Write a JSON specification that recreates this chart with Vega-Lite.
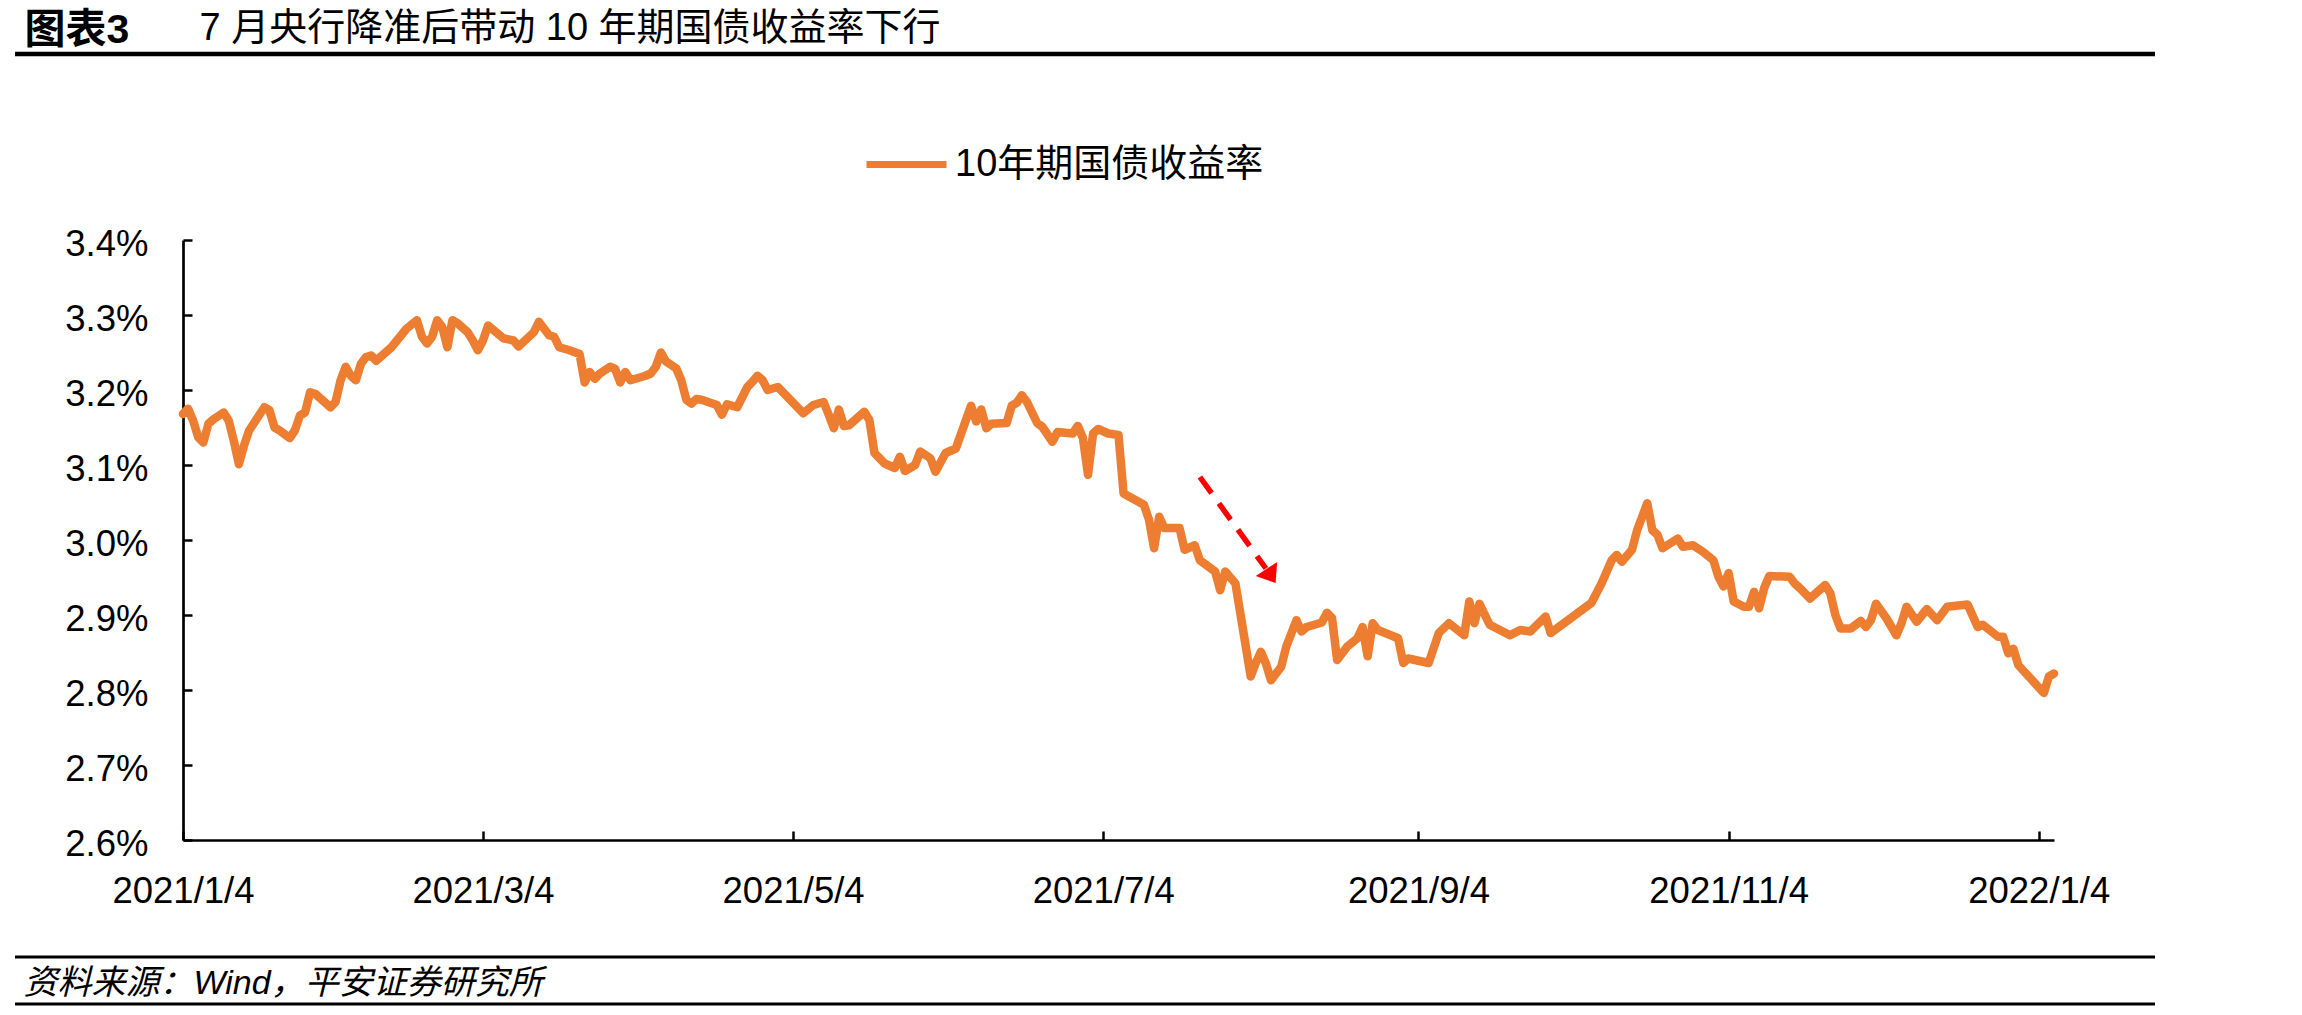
{
  "$schema": "https://vega.github.io/schema/vega-lite/v6.json",
  "width": 1871,
  "height": 600,
  "autosize": {"type": "none"},
  "padding": {"left": 183, "top": 240, "right": 248, "bottom": 175},
  "background": "white",
  "config": {
    "view": {"stroke": null},
    "font": "Liberation Sans, Noto Sans CJK SC"
  },
  "title": {
    "text": "资料来源：Wind，平安证券研究所",
    "orient": "bottom",
    "anchor": "start",
    "frame": "group",
    "dx": -159.5,
    "offset": -39,
    "baseline": "top",
    "font": "Liberation Sans, Noto Sans CJK SC",
    "fontSize": 34,
    "fontStyle": "italic",
    "fontWeight": "normal",
    "color": "black"
  },
  "datasets": {
    "yields": [
      {"date": "2021-01-04", "yield": 3.168}, {"date": "2021-01-05", "yield": 3.175}, {"date": "2021-01-06", "yield": 3.159},
      {"date": "2021-01-07", "yield": 3.137}, {"date": "2021-01-08", "yield": 3.130}, {"date": "2021-01-09", "yield": 3.155},
      {"date": "2021-01-10", "yield": 3.161}, {"date": "2021-01-12", "yield": 3.170}, {"date": "2021-01-13", "yield": 3.159},
      {"date": "2021-01-14", "yield": 3.132}, {"date": "2021-01-15", "yield": 3.101}, {"date": "2021-01-16", "yield": 3.126},
      {"date": "2021-01-17", "yield": 3.146}, {"date": "2021-01-20", "yield": 3.177}, {"date": "2021-01-21", "yield": 3.173},
      {"date": "2021-01-22", "yield": 3.150}, {"date": "2021-01-23", "yield": 3.146}, {"date": "2021-01-25", "yield": 3.136},
      {"date": "2021-01-26", "yield": 3.146}, {"date": "2021-01-27", "yield": 3.166}, {"date": "2021-01-28", "yield": 3.170},
      {"date": "2021-01-29", "yield": 3.197}, {"date": "2021-01-30", "yield": 3.195}, {"date": "2021-02-02", "yield": 3.177},
      {"date": "2021-02-03", "yield": 3.184}, {"date": "2021-02-04", "yield": 3.213}, {"date": "2021-02-05", "yield": 3.231},
      {"date": "2021-02-06", "yield": 3.219}, {"date": "2021-02-07", "yield": 3.213}, {"date": "2021-02-08", "yield": 3.235},
      {"date": "2021-02-09", "yield": 3.244}, {"date": "2021-02-10", "yield": 3.246}, {"date": "2021-02-11", "yield": 3.239},
      {"date": "2021-02-14", "yield": 3.257}, {"date": "2021-02-17", "yield": 3.282}, {"date": "2021-02-19", "yield": 3.293},
      {"date": "2021-02-20", "yield": 3.271}, {"date": "2021-02-21", "yield": 3.262}, {"date": "2021-02-22", "yield": 3.271},
      {"date": "2021-02-23", "yield": 3.293}, {"date": "2021-02-24", "yield": 3.284}, {"date": "2021-02-25", "yield": 3.257},
      {"date": "2021-02-26", "yield": 3.293}, {"date": "2021-02-27", "yield": 3.289}, {"date": "2021-03-01", "yield": 3.277},
      {"date": "2021-03-02", "yield": 3.266}, {"date": "2021-03-03", "yield": 3.253}, {"date": "2021-03-04", "yield": 3.266},
      {"date": "2021-03-05", "yield": 3.286}, {"date": "2021-03-08", "yield": 3.269}, {"date": "2021-03-10", "yield": 3.266},
      {"date": "2021-03-11", "yield": 3.258}, {"date": "2021-03-14", "yield": 3.277}, {"date": "2021-03-15", "yield": 3.291},
      {"date": "2021-03-16", "yield": 3.282}, {"date": "2021-03-17", "yield": 3.273}, {"date": "2021-03-18", "yield": 3.271},
      {"date": "2021-03-19", "yield": 3.257}, {"date": "2021-03-21", "yield": 3.253}, {"date": "2021-03-23", "yield": 3.248},
      {"date": "2021-03-24", "yield": 3.210}, {"date": "2021-03-25", "yield": 3.224}, {"date": "2021-03-26", "yield": 3.215},
      {"date": "2021-03-27", "yield": 3.222}, {"date": "2021-03-29", "yield": 3.231}, {"date": "2021-03-30", "yield": 3.228},
      {"date": "2021-03-31", "yield": 3.210}, {"date": "2021-04-01", "yield": 3.224}, {"date": "2021-04-02", "yield": 3.213},
      {"date": "2021-04-05", "yield": 3.219}, {"date": "2021-04-06", "yield": 3.222}, {"date": "2021-04-07", "yield": 3.231},
      {"date": "2021-04-08", "yield": 3.250}, {"date": "2021-04-09", "yield": 3.238}, {"date": "2021-04-11", "yield": 3.229},
      {"date": "2021-04-12", "yield": 3.213}, {"date": "2021-04-13", "yield": 3.187}, {"date": "2021-04-14", "yield": 3.182},
      {"date": "2021-04-15", "yield": 3.188}, {"date": "2021-04-16", "yield": 3.187}, {"date": "2021-04-19", "yield": 3.180},
      {"date": "2021-04-20", "yield": 3.167}, {"date": "2021-04-21", "yield": 3.181}, {"date": "2021-04-23", "yield": 3.177},
      {"date": "2021-04-25", "yield": 3.204}, {"date": "2021-04-26", "yield": 3.211}, {"date": "2021-04-27", "yield": 3.219},
      {"date": "2021-04-28", "yield": 3.213}, {"date": "2021-04-29", "yield": 3.200}, {"date": "2021-05-01", "yield": 3.204},
      {"date": "2021-05-06", "yield": 3.169}, {"date": "2021-05-08", "yield": 3.180}, {"date": "2021-05-10", "yield": 3.184},
      {"date": "2021-05-11", "yield": 3.167}, {"date": "2021-05-12", "yield": 3.149}, {"date": "2021-05-13", "yield": 3.174},
      {"date": "2021-05-14", "yield": 3.152}, {"date": "2021-05-15", "yield": 3.153}, {"date": "2021-05-18", "yield": 3.171},
      {"date": "2021-05-19", "yield": 3.160}, {"date": "2021-05-20", "yield": 3.116}, {"date": "2021-05-22", "yield": 3.102},
      {"date": "2021-05-24", "yield": 3.096}, {"date": "2021-05-25", "yield": 3.111}, {"date": "2021-05-26", "yield": 3.092},
      {"date": "2021-05-28", "yield": 3.100}, {"date": "2021-05-29", "yield": 3.118}, {"date": "2021-05-31", "yield": 3.109},
      {"date": "2021-06-01", "yield": 3.091}, {"date": "2021-06-03", "yield": 3.116}, {"date": "2021-06-05", "yield": 3.122},
      {"date": "2021-06-08", "yield": 3.179}, {"date": "2021-06-09", "yield": 3.158}, {"date": "2021-06-10", "yield": 3.174},
      {"date": "2021-06-11", "yield": 3.149}, {"date": "2021-06-12", "yield": 3.155}, {"date": "2021-06-15", "yield": 3.156},
      {"date": "2021-06-16", "yield": 3.179}, {"date": "2021-06-17", "yield": 3.183}, {"date": "2021-06-18", "yield": 3.193},
      {"date": "2021-06-19", "yield": 3.184}, {"date": "2021-06-21", "yield": 3.156}, {"date": "2021-06-22", "yield": 3.151},
      {"date": "2021-06-24", "yield": 3.131}, {"date": "2021-06-25", "yield": 3.144}, {"date": "2021-06-28", "yield": 3.142},
      {"date": "2021-06-29", "yield": 3.152}, {"date": "2021-06-30", "yield": 3.136}, {"date": "2021-07-01", "yield": 3.087},
      {"date": "2021-07-02", "yield": 3.142}, {"date": "2021-07-03", "yield": 3.148}, {"date": "2021-07-05", "yield": 3.142},
      {"date": "2021-07-07", "yield": 3.140}, {"date": "2021-07-08", "yield": 3.062}, {"date": "2021-07-12", "yield": 3.047},
      {"date": "2021-07-13", "yield": 3.027}, {"date": "2021-07-14", "yield": 2.989}, {"date": "2021-07-15", "yield": 3.031},
      {"date": "2021-07-16", "yield": 3.016}, {"date": "2021-07-19", "yield": 3.016}, {"date": "2021-07-20", "yield": 2.987},
      {"date": "2021-07-22", "yield": 2.993}, {"date": "2021-07-23", "yield": 2.973}, {"date": "2021-07-26", "yield": 2.958},
      {"date": "2021-07-27", "yield": 2.933}, {"date": "2021-07-28", "yield": 2.958}, {"date": "2021-07-30", "yield": 2.942},
      {"date": "2021-08-02", "yield": 2.818}, {"date": "2021-08-03", "yield": 2.836}, {"date": "2021-08-04", "yield": 2.851},
      {"date": "2021-08-05", "yield": 2.835}, {"date": "2021-08-06", "yield": 2.813}, {"date": "2021-08-08", "yield": 2.831},
      {"date": "2021-08-09", "yield": 2.858}, {"date": "2021-08-11", "yield": 2.893}, {"date": "2021-08-12", "yield": 2.878},
      {"date": "2021-08-13", "yield": 2.884}, {"date": "2021-08-16", "yield": 2.890}, {"date": "2021-08-17", "yield": 2.903},
      {"date": "2021-08-18", "yield": 2.896}, {"date": "2021-08-19", "yield": 2.840}, {"date": "2021-08-21", "yield": 2.858},
      {"date": "2021-08-23", "yield": 2.869}, {"date": "2021-08-24", "yield": 2.884}, {"date": "2021-08-25", "yield": 2.845},
      {"date": "2021-08-26", "yield": 2.889}, {"date": "2021-08-27", "yield": 2.880}, {"date": "2021-08-31", "yield": 2.869},
      {"date": "2021-09-01", "yield": 2.836}, {"date": "2021-09-02", "yield": 2.842}, {"date": "2021-09-06", "yield": 2.836},
      {"date": "2021-09-08", "yield": 2.876}, {"date": "2021-09-10", "yield": 2.889}, {"date": "2021-09-13", "yield": 2.873},
      {"date": "2021-09-14", "yield": 2.918}, {"date": "2021-09-15", "yield": 2.889}, {"date": "2021-09-16", "yield": 2.915},
      {"date": "2021-09-18", "yield": 2.887}, {"date": "2021-09-22", "yield": 2.873}, {"date": "2021-09-24", "yield": 2.880},
      {"date": "2021-09-26", "yield": 2.878}, {"date": "2021-09-29", "yield": 2.898}, {"date": "2021-09-30", "yield": 2.876},
      {"date": "2021-10-08", "yield": 2.916}, {"date": "2021-10-10", "yield": 2.942}, {"date": "2021-10-12", "yield": 2.973},
      {"date": "2021-10-13", "yield": 2.980}, {"date": "2021-10-14", "yield": 2.971}, {"date": "2021-10-16", "yield": 2.987},
      {"date": "2021-10-17", "yield": 3.013}, {"date": "2021-10-19", "yield": 3.049}, {"date": "2021-10-20", "yield": 3.013},
      {"date": "2021-10-21", "yield": 3.007}, {"date": "2021-10-22", "yield": 2.989}, {"date": "2021-10-25", "yield": 3.002},
      {"date": "2021-10-26", "yield": 2.991}, {"date": "2021-10-28", "yield": 2.993}, {"date": "2021-10-30", "yield": 2.984},
      {"date": "2021-11-01", "yield": 2.973}, {"date": "2021-11-02", "yield": 2.951}, {"date": "2021-11-03", "yield": 2.938},
      {"date": "2021-11-04", "yield": 2.956}, {"date": "2021-11-05", "yield": 2.918}, {"date": "2021-11-07", "yield": 2.911},
      {"date": "2021-11-08", "yield": 2.911}, {"date": "2021-11-09", "yield": 2.931}, {"date": "2021-11-10", "yield": 2.909},
      {"date": "2021-11-11", "yield": 2.936}, {"date": "2021-11-12", "yield": 2.952}, {"date": "2021-11-16", "yield": 2.951},
      {"date": "2021-11-17", "yield": 2.942}, {"date": "2021-11-18", "yield": 2.936}, {"date": "2021-11-20", "yield": 2.922},
      {"date": "2021-11-23", "yield": 2.940}, {"date": "2021-11-24", "yield": 2.929}, {"date": "2021-11-25", "yield": 2.900},
      {"date": "2021-11-26", "yield": 2.882}, {"date": "2021-11-28", "yield": 2.882}, {"date": "2021-11-30", "yield": 2.892},
      {"date": "2021-12-01", "yield": 2.884}, {"date": "2021-12-02", "yield": 2.893}, {"date": "2021-12-03", "yield": 2.915},
      {"date": "2021-12-05", "yield": 2.896}, {"date": "2021-12-07", "yield": 2.873}, {"date": "2021-12-08", "yield": 2.889},
      {"date": "2021-12-09", "yield": 2.911}, {"date": "2021-12-11", "yield": 2.891}, {"date": "2021-12-13", "yield": 2.908},
      {"date": "2021-12-15", "yield": 2.893}, {"date": "2021-12-17", "yield": 2.911}, {"date": "2021-12-21", "yield": 2.914},
      {"date": "2021-12-23", "yield": 2.884}, {"date": "2021-12-24", "yield": 2.887}, {"date": "2021-12-27", "yield": 2.871},
      {"date": "2021-12-28", "yield": 2.871}, {"date": "2021-12-29", "yield": 2.849}, {"date": "2021-12-30", "yield": 2.855},
      {"date": "2021-12-31", "yield": 2.833}, {"date": "2022-01-05", "yield": 2.796}, {"date": "2022-01-06", "yield": 2.818},
      {"date": "2022-01-07", "yield": 2.822}
    ],
    "arrow": [
      {"from": "2021-07-23", "fromYield": 3.084, "to": "2021-08-05", "toYield": 2.962}
    ],
    "arrowHead": [
      {"date": "2021-08-06", "yield": 2.952}
    ],
    "frame": [{}]
  },
  "layer": [
    {
      "data": {"name": "frame"},
      "mark": {"type": "rule", "color": "black", "strokeWidth": 4.3},
      "encoding": {"x": {"value": -168}, "x2": {"value": 1972}, "y": {"value": -186}}
    },
    {
      "data": {"name": "frame"},
      "mark": {"type": "rule", "color": "black", "strokeWidth": 3},
      "encoding": {"x": {"value": -168}, "x2": {"value": 1972}, "y": {"value": 717}}
    },
    {
      "data": {"name": "frame"},
      "mark": {"type": "rule", "color": "black", "strokeWidth": 3},
      "encoding": {"x": {"value": -168}, "x2": {"value": 1972}, "y": {"value": 764}}
    },
    {
      "data": {"name": "yields"},
      "mark": {"type": "line", "strokeWidth": 8.5, "strokeJoin": "round", "strokeCap": "round"},
      "encoding": {
        "x": {
          "field": "date",
          "type": "temporal",
          "scale": {"type": "utc", "domain": [1609718400000, 1641513600000]},
          "axis": {
            "values": [1609718400000, 1614816000000, 1620086400000, 1625356800000, 1630713600000, 1635984000000, 1641254400000],
            "labelExpr": "utcFormat(datum.value, '%Y/%-m/%-d')",
            "labelFlush": false,
            "labelOverlap": false,
            "labelFontSize": 36.5,
            "labelColor": "black",
            "labelPadding": 42,
            "grid": false,
            "domainColor": "black",
            "domainWidth": 2.7,
            "tickColor": "black",
            "tickWidth": 2.5,
            "tickSize": -9,
            "title": "图表3",
            "titleX": -159,
            "titleY": -830,
            "titleAlign": "left",
            "titleBaseline": "top",
            "titleAngle": 0,
            "titleFont": "Liberation Sans, Noto Sans CJK SC",
            "titleFontSize": 41,
            "titleFontWeight": "bold",
            "titleColor": "black"
          }
        },
        "y": {
          "field": "yield",
          "type": "quantitative",
          "scale": {"domain": [2.6, 3.4], "nice": false, "zero": false},
          "axis": {
            "values": [2.6, 2.7, 2.8, 2.9, 3.0, 3.1, 3.2, 3.3, 3.4],
            "labelExpr": "format(datum.value, '.1f') + '%'",
            "labelFlush": false,
            "labelOverlap": false,
            "labelFontSize": 36.5,
            "labelColor": "black",
            "labelPadding": 44,
            "labelOffset": 4,
            "grid": false,
            "domainColor": "black",
            "domainWidth": 2.7,
            "tickColor": "black",
            "tickWidth": 2.5,
            "tickSize": -9,
            "title": "7 月央行降准后带动 10 年期国债收益率下行",
            "titleX": 16,
            "titleY": -231,
            "titleAlign": "left",
            "titleBaseline": "top",
            "titleAngle": 0,
            "titleFont": "Liberation Sans, Noto Sans CJK SC",
            "titleFontSize": 38,
            "titleFontWeight": "normal",
            "titleColor": "black"
          }
        },
        "color": {
          "datum": "10年期国债收益率",
          "type": "nominal",
          "scale": {"range": ["#ED7D31"]},
          "legend": {
            "orient": "none",
            "legendX": 680,
            "legendY": -119,
            "title": null,
            "padding": 0,
            "symbolType": "stroke",
            "symbolSize": 6400,
            "symbolStrokeWidth": 7,
            "labelFont": "Liberation Sans, Noto Sans CJK SC",
            "labelFontSize": 38,
            "labelColor": "black",
            "labelOffset": 5,
            "labelLimit": 0
          }
        }
      }
    },
    {
      "data": {"name": "arrow"},
      "mark": {"type": "rule", "color": "#FF0000", "strokeWidth": 5.5, "strokeDash": [20, 12.5], "strokeCap": "butt"},
      "encoding": {
        "x": {"field": "from", "type": "temporal"},
        "x2": {"field": "to"},
        "y": {"field": "fromYield", "type": "quantitative"},
        "y2": {"field": "toYield"}
      }
    },
    {
      "data": {"name": "arrowHead"},
      "mark": {"type": "point", "shape": "M-1,-0.66L1,-0.66L0,0.66Z", "filled": true, "color": "#FF0000", "opacity": 1, "size": 650, "angle": 327, "strokeWidth": 0},
      "encoding": {
        "x": {"field": "date", "type": "temporal"},
        "y": {"field": "yield", "type": "quantitative"}
      }
    }
  ]
}
